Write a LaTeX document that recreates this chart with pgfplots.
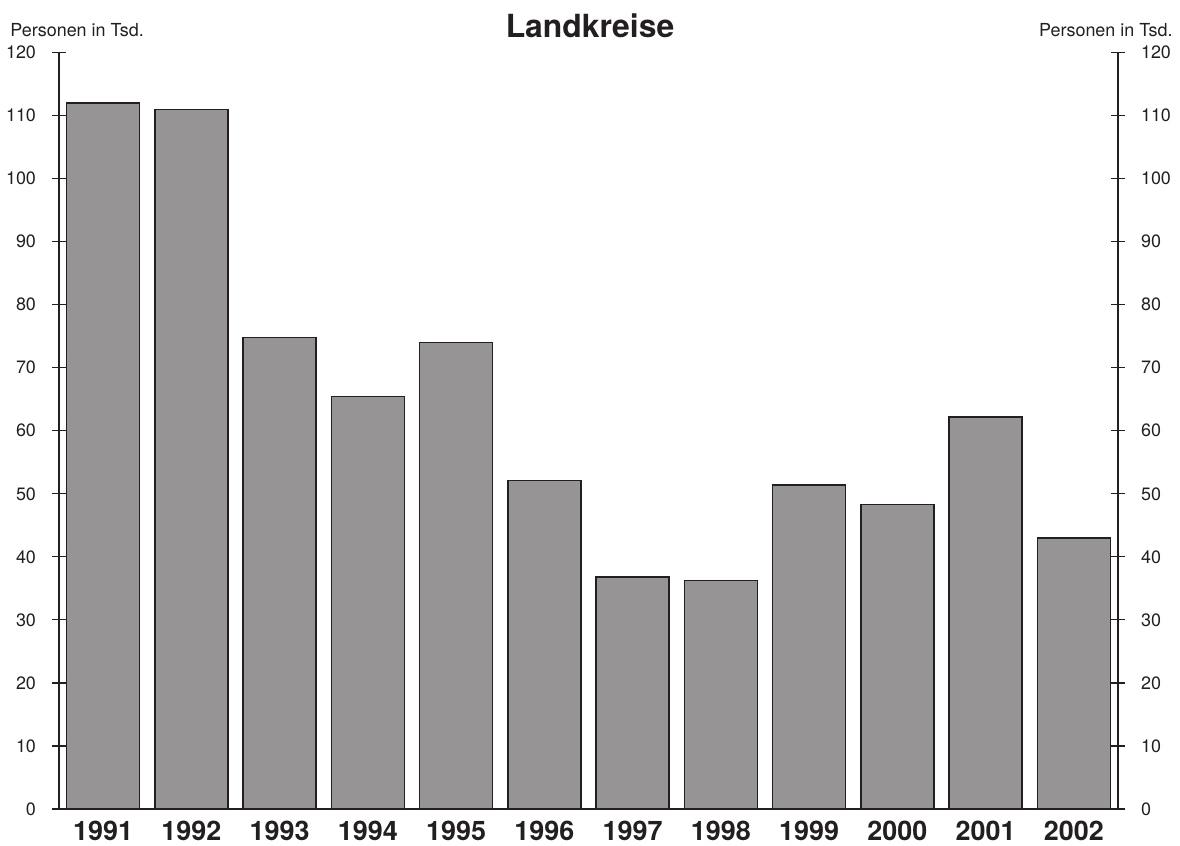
\documentclass[border=0pt]{standalone}
\usepackage{pgfplots}
\pgfplotsset{compat=1.18}
\usepackage{fontspec}
\setmainfont{TeX Gyre Heros}
\definecolor{barfill}{RGB}{150,148,149}
\definecolor{linec}{RGB}{35,31,32}
\pgfplotstableread{
x val
0 112.0
1 111.0
2 74.8
3 65.4
4 74.0
5 52.1
6 36.8
7 36.2
8 51.4
9 48.3
10 62.2
11 43.0
}\datatable
\begin{document}
\begin{tikzpicture}
\useasboundingbox (-29.5bp,-18.5bp) rectangle (560.5bp,404.5bp);
\pgfplotsset{
  common/.style={
    at={(0,0)}, anchor=south west,
    scale only axis, width=529.5bp, height=378.25bp,
    xmin=-0.5, xmax=11.5, ymin=0, ymax=120,
    ytick={0,10,...,120},
    tick align=center, major tick length=7bp,
    axis line style={draw=linec, line width=0.6bp},
    every tick/.style={draw=linec, line width=0.6bp},
    yticklabel style={font=\fontsize{9}{10}\selectfont, text=linec},
    /pgf/number format/assume math mode=true,
  }
}
\begin{axis}[common,
  axis x line*=bottom, axis y line*=left,
  ybar, bar width=36.5bp,
  xtick=data,
  xticklabels={1991,1992,1993,1994,1995,1996,1997,1998,1999,2000,2001,2002},
  xtick style={draw=none},
  xticklabel style={font=\fontsize{13.5}{15}\selectfont\bfseries, text=linec, anchor=north, yshift=4.5bp},
  yticklabel style={anchor=east, xshift=-4.5bp},
]
\addplot[fill=barfill, draw=linec, line width=0.7bp] table[x=x, y=val] {\datatable};
\end{axis}
\begin{axis}[common,
  axis x line=none, axis y line*=right,
  yticklabel style={anchor=west, xshift=4.5bp},
]
\addplot[draw=none] coordinates {(0,0)};
\end{axis}
\node[anchor=base west, font=\fontsize{9}{10}\selectfont, text=linec, inner sep=0pt] at (-24.5bp,386bp) {Personen in Tsd.};
\node[anchor=base east, font=\fontsize{9}{10}\selectfont, text=linec, inner sep=0pt] at (557bp,386bp) {Personen in Tsd.};
\node[anchor=base, font=\fontsize{16}{18}\selectfont\bfseries, text=linec, inner sep=0pt] at (265.5bp,385.5bp) {Landkreise};
\end{tikzpicture}
\end{document}
